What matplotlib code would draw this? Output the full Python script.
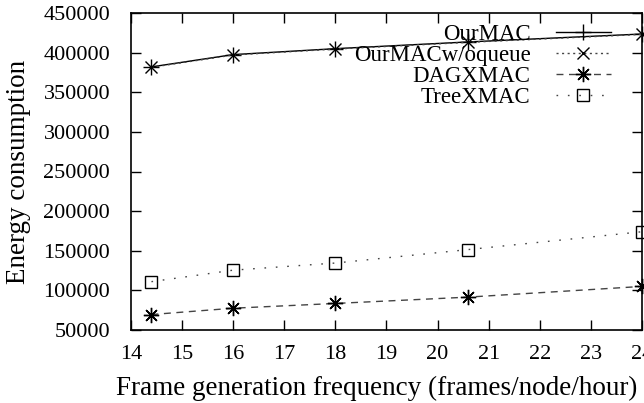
import matplotlib
matplotlib.use("Agg")
import matplotlib.pyplot as plt

plt.rcParams["font.family"] = ["Liberation Serif", "DejaVu Serif"]

# data
freq = [14.4, 16, 18, 20.6, 24]
ourmac = [382000, 397500, 405000, 413500, 423500]
ourmac_noq = [381500, 397000, 404500, 413000, 423000]
dagxmac = [69500, 77500, 83500, 91500, 105000]
treexmac = [111000, 125500, 134500, 151500, 174000]

xticks = list(range(14, 25))
yticks = list(range(50000, 450001, 50000))

fig = plt.figure(figsize=(6.44, 4.03), dpi=100)
ax = fig.add_axes([131 / 644, 1 - 330 / 403, 511 / 644, 317 / 403])

ms = 11
ax.plot(freq, ourmac, color="black", lw=1.0, marker="+", ms=ms, mew=1.0,
        label="OurMAC", clip_on=False)
ax.plot(freq, ourmac_noq, color="#444444", lw=1.0, ls=(0, (1.5, 2.5)),
        marker="x", ms=ms * 0.8, mew=1.0, mec="black", label="OurMACw/oqueue",
        clip_on=False)
ax.plot(freq, dagxmac, color="#444444", lw=1.0, ls=(0, (5, 4)),
        marker=(8, 2, 0), ms=ms, mew=1.0, mec="black", label="DAGXMAC",
        clip_on=False)
ax.plot(freq, treexmac, color="#444444", lw=1.0, ls=(0, (1.2, 7)),
        marker="s", ms=ms * 0.85, mew=1.0, mfc="none", mec="black",
        label="TreeXMAC", clip_on=False)

ax.set_xlim(14, 24)
ax.set_ylim(50000, 450000)
ax.set_xticks(xticks)
ax.set_yticks(yticks)
ax.tick_params(direction="in", length=7, width=1.0, labelsize=16,
               top=True, right=True)
ax.tick_params(axis="x", pad=11)
ax.tick_params(axis="y", pad=15)
for s in ax.spines.values():
    s.set_linewidth(1.2)

ax.set_xlabel("Frame generation frequency (frames/node/hour)", fontsize=19.5,
              va="baseline")
ax.xaxis.set_label_coords(0.481, -0.205)
ax.set_ylabel("Energy consumption", fontsize=19.5, va="center")
ax.yaxis.set_label_coords(-0.221, 0.5)

leg = ax.legend(loc="upper right", bbox_to_anchor=(0.97, 1.017), frameon=False,
                markerfirst=False, fontsize=16.5, handlelength=2.4,
                numpoints=1, labelspacing=0.0, handletextpad=1.1,
                borderpad=0.2)

fig.savefig("out.png", dpi=100)
